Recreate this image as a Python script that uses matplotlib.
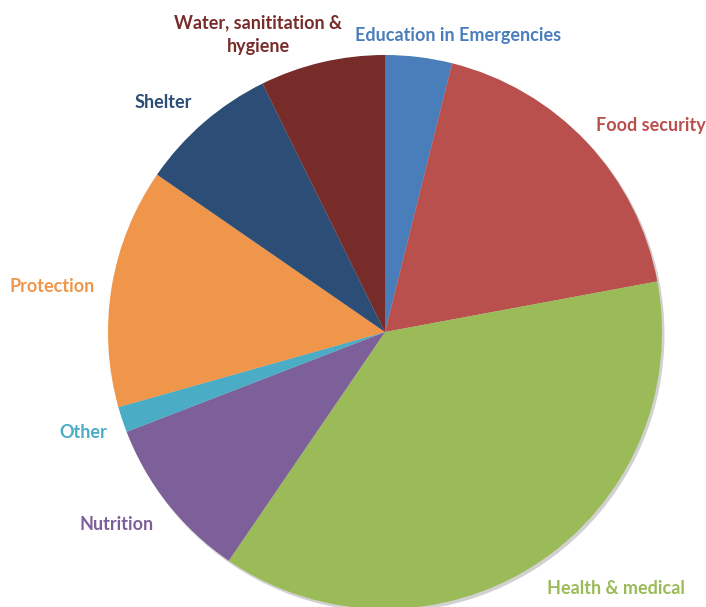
import matplotlib
matplotlib.use("Agg")
import matplotlib.pyplot as plt
from matplotlib.patches import Circle

categories = ["Education in Emergencies", "Food security", "Health & medical",
              "Nutrition", "Other", "Protection", "Shelter",
              "Water, sanititation &\nhygiene"]
shares = [3.9, 18.2, 37.5, 9.6, 1.5, 14.0, 8.1, 7.3]
colors = ["#4A7EBB", "#B9504D", "#9BBB59", "#7D609A", "#4BACC6",
          "#F0964B", "#2C4D75", "#772C2A"]

# label anchor positions in pixel coordinates (x, y from top)
label_pos = [(458, 36), (651, 125), (616, 588), (117, 524), (83, 432),
             (52, 286), (163, 103), (258, 34.5)]

W, H = 706, 607
fig = plt.figure(figsize=(W / 100, H / 100), dpi=100)
ax = fig.add_axes([0, 0, 1, 1])
ax.set_xlim(0, W)
ax.set_ylim(0, H)
ax.set_aspect("equal")
ax.axis("off")

cx, cy, r = 385, H - 332, 277

shadow = Circle((cx + 2, cy - 2.5), r + 0.5, facecolor="#9a9a9a", alpha=0.45,
                edgecolor="none", zorder=0)
ax.add_patch(shadow)

wedges, _ = ax.pie(shares, colors=colors, startangle=90, counterclock=False,
                   center=(cx, cy), radius=r, frame=True,
                   wedgeprops=dict(linewidth=0, zorder=1))
ax.set_xlim(0, W)
ax.set_ylim(0, H)
ax.axis("off")

for lab, (px, py), col in zip(categories, label_pos, colors):
    ax.text(px, H - py, lab, color=col, fontsize=13, fontweight="bold",
            family="Lato", ha="center", va="center", linespacing=1.45)

fig.savefig("out.png", dpi=100)
